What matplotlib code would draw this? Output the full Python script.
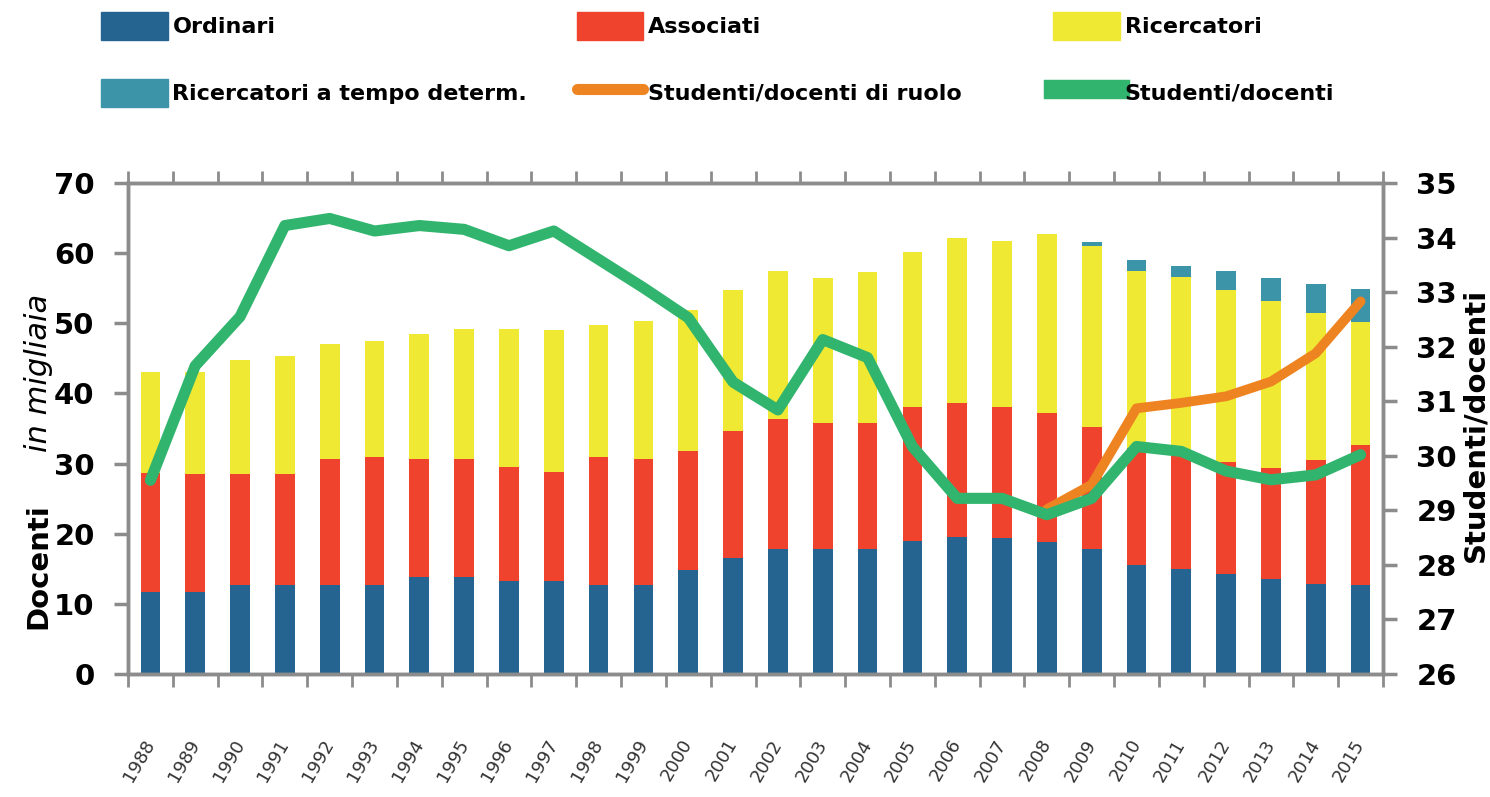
import matplotlib

matplotlib.use("Agg")
import matplotlib.pyplot as plt
import numpy as np
from matplotlib.lines import Line2D
from matplotlib.patches import Patch
from matplotlib.ticker import FixedLocator

plt.rcParams["font.family"] = ["DejaVu Sans"]

# data (docenti in migliaia, rapporto studenti/docenti)
years = list(range(1988, 2016))
ordinari = [11.7, 11.7, 12.7, 12.7, 12.7, 12.7, 13.8, 13.8, 13.3, 13.2, 12.7, 12.7, 14.8, 16.6,
            17.8, 17.8, 17.8, 19.0, 19.6, 19.4, 18.8, 17.8, 15.5, 15.0, 14.3, 13.5, 12.9, 12.7]
associati = [17.0, 16.8, 15.8, 15.8, 18.0, 18.2, 16.9, 16.8, 16.2, 15.6, 18.2, 17.9, 17.0, 18.0,
             18.5, 18.0, 18.0, 19.0, 19.0, 18.6, 18.4, 17.4, 16.7, 16.2, 15.9, 15.8, 17.6, 19.9]
ricercatori = [14.4, 14.6, 16.2, 16.8, 16.3, 16.6, 17.8, 18.6, 19.7, 20.3, 18.8, 19.7, 20.1, 20.2,
               21.2, 20.6, 21.5, 22.2, 23.5, 23.8, 25.5, 25.8, 25.3, 25.4, 24.5, 23.9, 21.0, 17.6]
ricercatori_td = [0, 0, 0, 0, 0, 0, 0, 0, 0, 0, 0, 0, 0, 0,
                  0, 0, 0, 0, 0, 0, 0, 0.6, 1.5, 1.6, 2.7, 3.2, 4.1, 4.7]
stud_doc = [29.55, 31.65, 32.55, 34.22, 34.35, 34.12, 34.22, 34.15, 33.85, 34.12, 33.6, 33.08, 32.53, 31.35,
            30.84, 32.13, 31.8, 30.17, 29.22, 29.22, 28.92, 29.22, 30.17, 30.08, 29.72, 29.56, 29.65, 30.02]
stud_doc_ruolo = [np.nan] * 20 + [29.02, 29.47, 30.87, 30.97, 31.09, 31.36, 31.88, 32.83]

C_ORD = "#256491"
C_ASS = "#ef432d"
C_RIC = "#f0e933"
C_RTD = "#3b94a7"
C_RUOLO = "#ee8421"
C_STUD = "#31b56e"
SPINE = "#8c8c8c"

fig = plt.figure(figsize=(14.9, 7.97), dpi=100)
ax = fig.add_axes([0.0859, 0.1543, 0.8423, 0.6161])
ax2 = ax.twinx()

x = np.arange(len(years))
w = 0.44
bottom = np.zeros(len(years))
for vals, col in [(ordinari, C_ORD), (associati, C_ASS), (ricercatori, C_RIC), (ricercatori_td, C_RTD)]:
    ax.bar(x, vals, w, bottom=bottom, color=col, linewidth=0)
    bottom += np.array(vals)

ax2.plot(x, stud_doc_ruolo, color=C_RUOLO, lw=7, solid_joinstyle="round", solid_capstyle="round", zorder=3)
ax2.plot(x, stud_doc, color=C_STUD, lw=8, solid_joinstyle="round", solid_capstyle="round", zorder=4)

ax.set_xlim(-0.5, len(years) - 0.5)
ax.set_ylim(0, 70)
ax2.set_ylim(26, 35)
ax.set_yticks(range(0, 71, 10))
ax2.set_yticks(range(26, 36))

ax.set_xticks(x)
ax.set_xticklabels([str(y) for y in years], rotation=60, ha="right", va="center",
                   rotation_mode="anchor", fontsize=13, color="#333333")
ax.xaxis.set_minor_locator(FixedLocator(np.arange(-0.5, len(years), 1)))
ax.tick_params(axis="x", which="major", length=0, pad=48)
ax.tick_params(axis="x", which="minor", length=9, width=2, color=SPINE, top=True, bottom=True, direction="out")
ax.tick_params(axis="y", length=10, width=2.5, color=SPINE, labelsize=21, pad=14)
ax2.tick_params(axis="y", length=10, width=2.5, color=SPINE, labelsize=21, pad=14)
for lab in ax.get_yticklabels() + ax2.get_yticklabels():
    lab.set_fontweight("bold")

for a in (ax, ax2):
    for s in a.spines.values():
        s.set_color(SPINE)
        s.set_linewidth(2.5)

fig.text(0.026, 0.29, "Docenti", rotation=90, fontsize=21, fontweight="bold", ha="center", va="center")
fig.text(0.026, 0.532, "in migliaia", rotation=90, fontsize=22, fontstyle="italic", ha="center", va="center")
fig.text(0.99, 0.467, "Studenti/docenti", rotation=90, fontsize=21, fontweight="bold", ha="center", va="center")

# legend: three columns of two rows
handles = [
    (Patch(color=C_ORD), "Ordinari"),
    (Patch(color=C_RTD), "Ricercatori a tempo determ."),
    (Patch(color=C_ASS), "Associati"),
    (Line2D([], [], color=C_RUOLO, lw=8, solid_capstyle="round"), "Studenti/docenti di ruolo"),
    (Patch(color=C_RIC), "Ricercatori"),
    (Line2D([], [], color=C_STUD, lw=14), "Studenti/docenti"),
]
for i, xpos in enumerate([0.068, 0.387, 0.707]):
    pair = handles[2 * i:2 * i + 2]
    fig.legend([h for h, _ in pair], [t for _, t in pair], loc="upper left",
               bbox_to_anchor=(xpos, 0.985), frameon=False,
               prop={"weight": "bold", "size": 16}, handlelength=3.0, handleheight=1.55,
               handletextpad=0.2, labelspacing=1.75, borderpad=0, borderaxespad=0)

fig.savefig("out.png", dpi=100)
